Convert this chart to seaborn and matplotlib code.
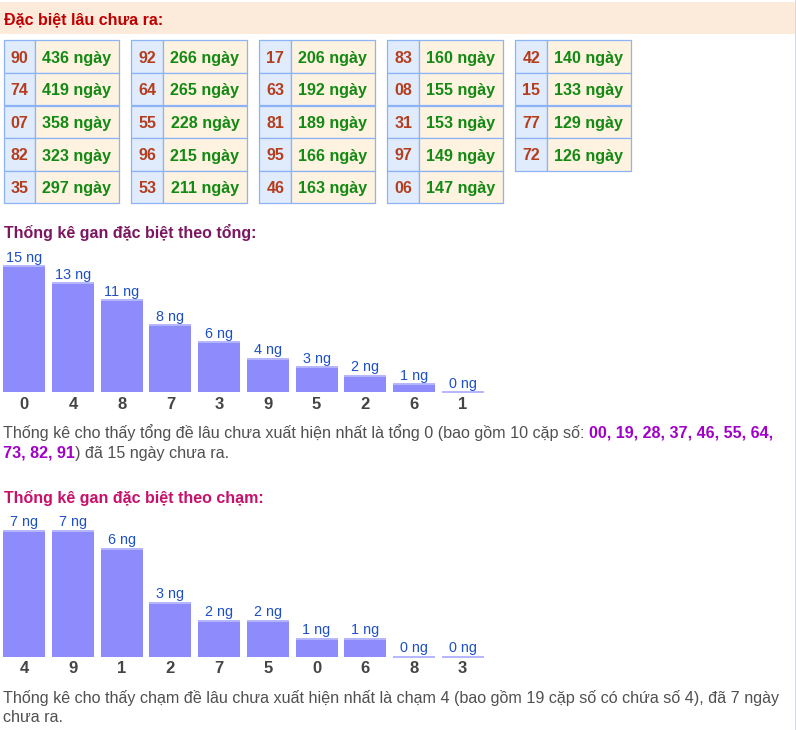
import matplotlib
matplotlib.use("Agg")
import matplotlib.pyplot as plt
from matplotlib.patches import Rectangle
import seaborn as sns
import pandas as pd

# ---------------- data ----------------
table_numbers = [
    ["90", "74", "07", "82", "35"],
    ["92", "64", "55", "96", "53"],
    ["17", "63", "81", "95", "46"],
    ["83", "08", "31", "97", "06"],
    ["42", "15", "77", "72"],
]
table_days = [
    [436, 419, 358, 323, 297],
    [266, 265, 228, 215, 211],
    [206, 192, 189, 166, 163],
    [160, 155, 153, 149, 147],
    [140, 133, 129, 126],
]
tong_categories = ["0", "4", "8", "7", "3", "9", "5", "2", "6", "1"]
tong_values = [15, 13, 11, 8, 6, 4, 3, 2, 1, 0]
cham_categories = ["4", "9", "1", "2", "7", "5", "0", "6", "8", "3"]
cham_values = [7, 7, 6, 3, 2, 2, 1, 1, 0, 0]
tong_pairs = ["00", "19", "28", "37", "46", "55", "64", "73", "82", "91"]

# ---------------- style ----------------
W, H = 796, 730
sns.set_theme(style="white")
plt.rcParams['font.family'] = ['Liberation Sans', 'DejaVu Sans']

BAR = "#8e8cfd"
BAR_TOP = "#b4b6ff"
LABEL = "#1d50c8"
GRAY = "#505050"
PURPLE = "#a000c8"

fig = plt.figure(figsize=(W / 100, H / 100), dpi=100)
bg = fig.add_axes([0, 0, 1, 1], zorder=0)
bg.set_xlim(0, W)
bg.set_ylim(H, 0)
bg.axis('off')

# right border
bg.plot([795.5, 795.5], [0, H], color="#c9d2e3", lw=1.2)

# header band
bg.add_patch(Rectangle((0, 2), 795, 31.5, facecolor="#fceada", edgecolor="none"))
bg.text(4, 24.5, "Đặc biệt lâu chưa ra:", fontsize=11.5, fontweight="bold",
        color="#c00000", va="baseline")

# tables
row_h = 32.6
for t, (nums, days) in enumerate(zip(table_numbers, table_days)):
    x0 = 3.5 + t * 127.95
    for r, (n, d) in enumerate(zip(nums, days)):
        y0 = 40.3 + r * row_h
        bg.add_patch(Rectangle((x0, y0), 31.5, row_h, facecolor="#e0ecfc",
                               edgecolor="#8cb3f5", lw=0.9))
        bg.add_patch(Rectangle((x0 + 31.5, y0), 84, row_h, facecolor="#fef2e0",
                               edgecolor="#8cb3f5", lw=0.9))
        bg.text(x0 + 15.9, y0 + 22.4, n, ha="center", va="baseline",
                fontsize=11.5, fontweight="bold", color="#b53d1d")
        bg.text(x0 + 31.5 + 42.0, y0 + 22.4, f"{d} ngày", ha="center",
                va="baseline", fontsize=11.6, fontweight="bold", color="#138a13")

renderer = fig.canvas.get_renderer()


def rich_line(x, y, segments):
    for txt, color, weight in segments:
        t = bg.text(x, y, txt, va="baseline", ha="left", fontsize=11.65,
                    color=color, fontweight=weight)
        bb = t.get_window_extent(renderer=renderer)
        x += bb.width


def bar_chart(cats, vals, baseline_px):
    ax = fig.add_axes([0 / W, (H - baseline_px) / H, 487 / W, 126 / H], zorder=2)
    ax.set_facecolor("none")
    df = pd.DataFrame({"cat": cats, "val": vals})
    sns.barplot(data=df, x="cat", y="val", order=cats, color=BAR,
                saturation=1, width=0.862, ax=ax, edgecolor="none", linewidth=0)
    ax.set_xlim(-0.5, len(cats) - 0.5)
    ax.set_ylim(0, max(vals))
    for p in list(ax.patches):
        x, w, h = p.get_x(), p.get_width(), p.get_height()
        ax.plot([x, x + w], [h, h], color=BAR_TOP, lw=1.4, clip_on=False,
                solid_capstyle="butt")
        ax.annotate(f"{int(h)} ng", (x + w / 2, h), xytext=(0, 3.1),
                    textcoords="offset points", ha="center", va="baseline",
                    color=LABEL, fontsize=10.4, annotation_clip=False)
    ax.set_xlabel("")
    ax.set_ylabel("")
    ax.set_yticks([])
    ax.tick_params(axis="x", length=0, pad=3.2, labelsize=12, labelcolor="#444444")
    for lab in ax.get_xticklabels():
        lab.set_fontweight("bold")
    for s in ax.spines.values():
        s.set_visible(False)
    return ax


# chart 1: theo tong
bg.text(4, 238, "Thống kê gan đặc biệt theo tổng:", fontsize=11.5,
        fontweight="bold", color="#7c1660", va="baseline")
bar_chart(tong_categories, tong_values, 392.3)
rich_line(3, 438, [
    (f"Thống kê cho thấy tổng đề lâu chưa xuất hiện nhất là tổng {tong_categories[0]} "
     f"(bao gồm {len(tong_pairs)} cặp số: ", GRAY, "normal"),
    (", ".join(tong_pairs[:7]) + ",", PURPLE, "bold"),
])
rich_line(3, 458, [
    (", ".join(tong_pairs[7:]), PURPLE, "bold"),
    (f") đã {tong_values[0]} ngày chưa ra.", GRAY, "normal"),
])

# chart 2: theo cham
bg.text(4, 502.7, "Thống kê gan đặc biệt theo chạm:", fontsize=11.5,
        fontweight="bold", color="#c8106a", va="baseline")
bar_chart(cham_categories, cham_values, 656.7)
rich_line(3, 703, [
    (f"Thống kê cho thấy chạm đề lâu chưa xuất hiện nhất là chạm {cham_categories[0]} "
     f"(bao gồm 19 cặp số có chứa số {cham_categories[0]}), đã {cham_values[0]} ngày",
     GRAY, "normal"),
])
rich_line(3, 722, [("chưa ra.", GRAY, "normal")])

fig.savefig("out.png", dpi=100)
